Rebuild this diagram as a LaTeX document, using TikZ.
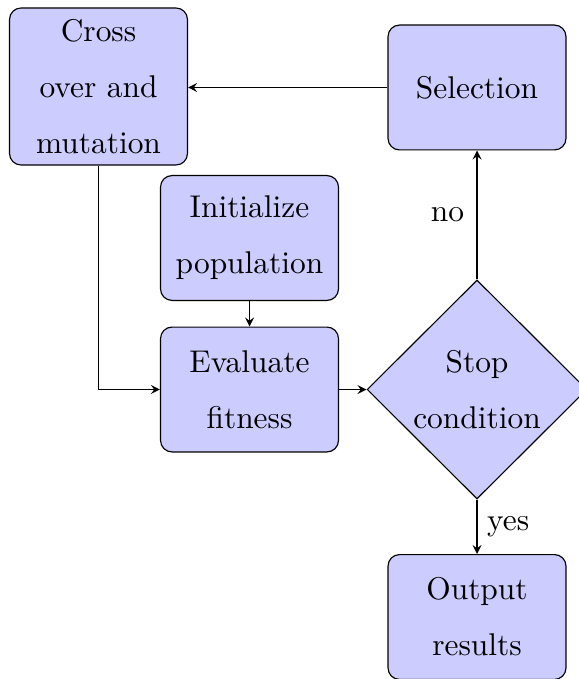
\documentclass[tikz,border=0pt]{standalone}
\usetikzlibrary{shapes.geometric}
\begin{document}
\begin{tikzpicture}[x=0.3484pt,y=-0.3484pt,
  every node/.style={font=\fontsize{10.95}{19.5}\selectfont},
  blockbox/.style={rectangle, rounded corners, draw=black, fill=blue!20,
    align=center, inner sep=0pt, minimum width=62pt, minimum height=43.5pt},
  decisionbox/.style={diamond, draw=black, fill=blue!20, align=center,
    inner sep=0pt, minimum width=76.6pt, minimum height=76.3pt},
  flow/.style={-stealth}]
\useasboundingbox (0,0) rectangle (578,679);
\node[blockbox, minimum height=54.7pt] (cross) at (98.5,86.5) {Cross\\over and\\mutation};
\node[blockbox] (sel) at (477,87.5) {Selection};
\node[blockbox] (init) at (249.5,238) {Initialize\\population};
\node[blockbox] (eval) at (249.5,389.5) {Evaluate\\fitness};
\node[decisionbox] (stop) at (477,389.5) {Stop\\condition};
\node[blockbox] (out) at (477,617) {Output\\results};
\draw[flow] (sel.west) -- (sel.west -| cross.east);
\draw[flow] (cross.south) |- (eval.west);
\draw[flow] (init) -- (eval);
\draw[flow] (eval) -- (stop);
\draw[flow] (stop.north) -- node[left, xshift=-1pt] {no} (sel.south);
\draw[flow] (stop.south) -- node[right] {yes} (out.north);
\end{tikzpicture}
\end{document}
